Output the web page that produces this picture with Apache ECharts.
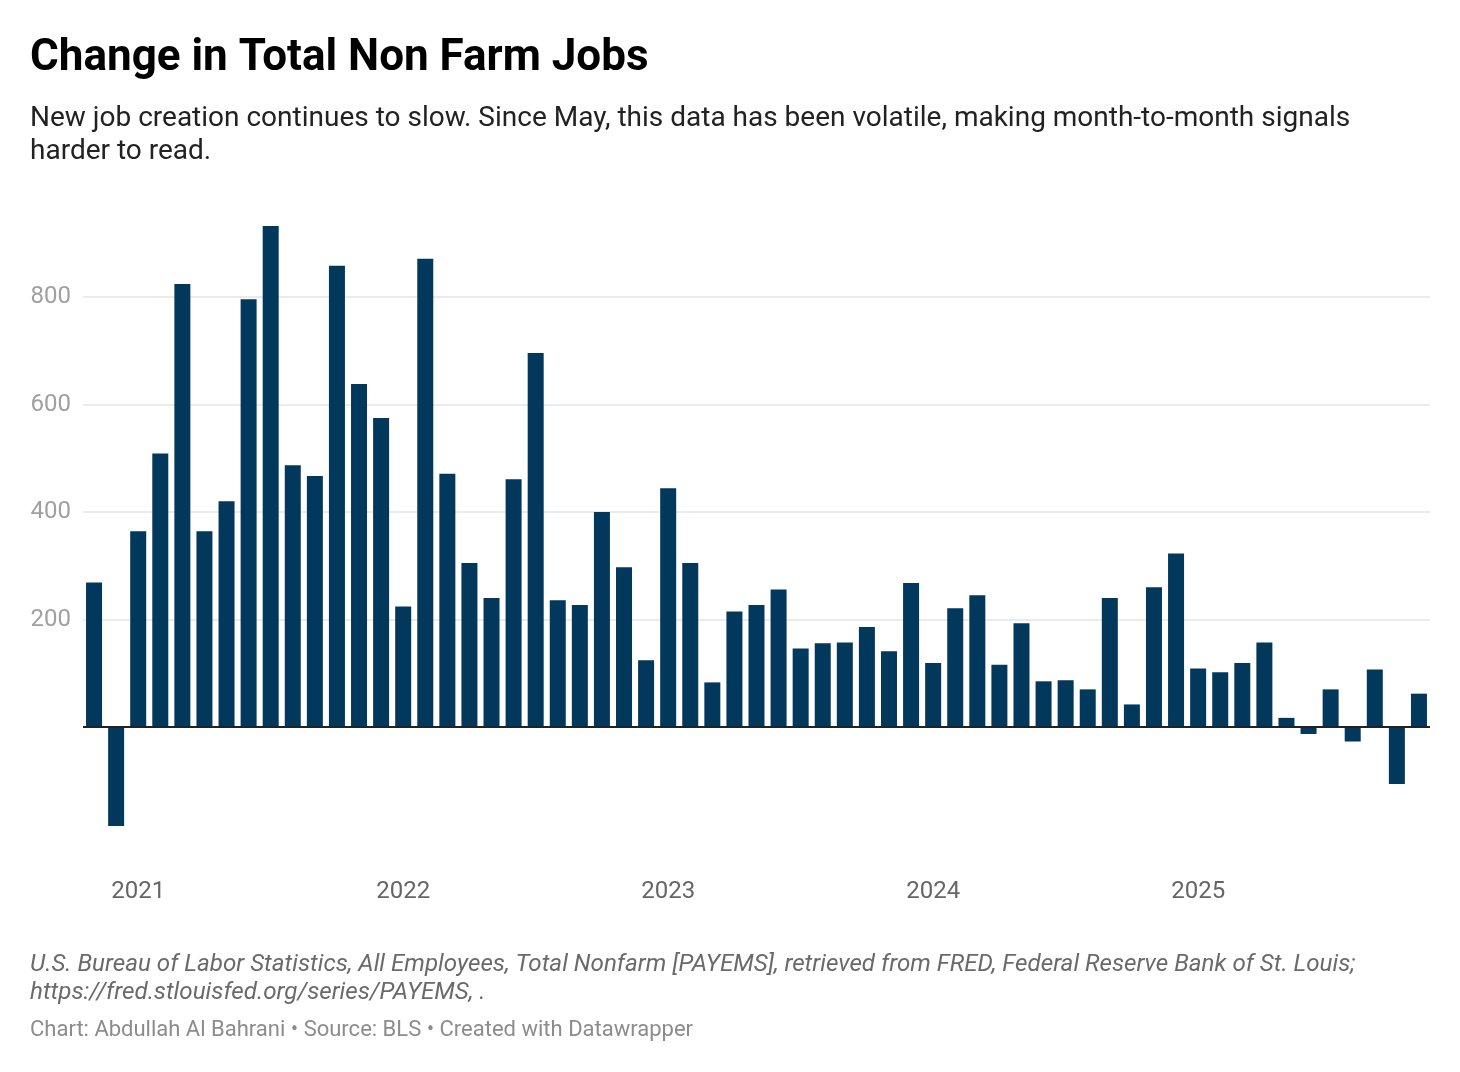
<!DOCTYPE html>
<html>
<head>
<meta charset="utf-8">
<script src="https://cdn.jsdelivr.net/npm/echarts@6/dist/echarts.min.js"></script>
<style>
html,body{margin:0;padding:0;background:#fff;}
#chart{width:1460px;height:1072px;}
</style>
</head>
<body>
<div id="chart"></div>
<script>
const months = [
  '2020-11','2020-12',
  '2021-01','2021-02','2021-03','2021-04','2021-05','2021-06','2021-07','2021-08','2021-09','2021-10','2021-11','2021-12',
  '2022-01','2022-02','2022-03','2022-04','2022-05','2022-06','2022-07','2022-08','2022-09','2022-10','2022-11','2022-12',
  '2023-01','2023-02','2023-03','2023-04','2023-05','2023-06','2023-07','2023-08','2023-09','2023-10','2023-11','2023-12',
  '2024-01','2024-02','2024-03','2024-04','2024-05','2024-06','2024-07','2024-08','2024-09','2024-10','2024-11','2024-12',
  '2025-01','2025-02','2025-03','2025-04','2025-05','2025-06','2025-07','2025-08','2025-09','2025-10','2025-11'
];
const jobChanges = [
  269,-184,
  364,509,824,364,420,796,932,487,467,858,638,575,
  224,871,471,305,240,461,696,236,227,400,297,124,
  444,305,83,215,227,256,146,156,157,186,141,268,
  119,221,245,116,193,85,87,70,240,42,260,323,
  109,102,119,157,17,-13,70,-27,107,-106,62
];
const yTickLabels = [200,400,600,800];

const titleText = 'Change in Total Non Farm Jobs';
const subtitleText = 'New job creation continues to slow. Since May, this data has been volatile, making month-to-month signals\nharder to read.';
const sourceText = 'U.S. Bureau of Labor Statistics, All Employees, Total Nonfarm [PAYEMS], retrieved from FRED, Federal Reserve Bank of St. Louis;\nhttps://fred.stlouisfed.org/series/PAYEMS, .';
const creditText = 'Chart: Abdullah Al Bahrani \u2022 Source: BLS \u2022 Created with Datawrapper';

const chart = echarts.init(document.getElementById('chart'), null, {renderer:'canvas'});
const FONT = 'Roboto';
chart.setOption({
  backgroundColor:'#ffffff',
  animation:false,
  title:[
    {text:titleText, left:30, top:37, padding:0,
     textStyle:{fontFamily:FONT, fontWeight:'bold', fontSize:44, color:'#000', lineHeight:44}},
    {text:subtitleText, left:30, top:102, padding:0,
     textStyle:{fontFamily:FONT, fontWeight:'normal', fontSize:28, color:'#222', lineHeight:33}},
    {text:sourceText, left:30, top:951, padding:0,
     textStyle:{fontFamily:FONT, fontWeight:'normal', fontStyle:'italic', fontSize:24.2, color:'#6a6a6a', lineHeight:28}},
    {text:creditText, left:30, top:1019, padding:0,
     textStyle:{fontFamily:FONT, fontWeight:'normal', fontSize:22, color:'#8c8c8c', lineHeight:22}}
  ],
  grid:{left:83, right:30, top:189.5, bottom:237.5, containLabel:false},
  xAxis:{
    type:'category',
    data:months,
    boundaryGap:true,
    axisLine:{show:false, onZero:false},
    axisTick:{show:false},
    splitLine:{show:false},
    axisLabel:{
      interval:function(i, v){ return v.slice(5) === '01'; },
      formatter:function(v){ return v.slice(0,4); },
      margin:45,
      fontFamily:FONT, fontSize:24, color:'#666'
    }
  },
  yAxis:{
    type:'value',
    min:-200, max:1000, interval:200,
    axisLine:{show:false},
    axisTick:{show:false},
    splitLine:{show:true, lineStyle:{
      color:['rgba(0,0,0,0)','rgba(0,0,0,0)','#e5e5e5','#e5e5e5','#e5e5e5','#e5e5e5','rgba(0,0,0,0)'],
      width:1.5}},
    axisLabel:{
      formatter:function(v){ return yTickLabels.indexOf(v) >= 0 ? String(v) : ''; },
      margin:12,
      fontFamily:FONT, fontSize:24, color:'#a0a0a0'
    }
  },
  series:[{
    type:'bar',
    data:jobChanges,
    barWidth:16,
    itemStyle:{color:'#03385d'},
    markLine:{
      silent:true,
      symbol:['none','none'],
      label:{show:false},
      lineStyle:{color:'#222', width:2, type:'solid'},
      data:[{yAxis:0}]
    }
  }]
});
</script>
</body>
</html>
